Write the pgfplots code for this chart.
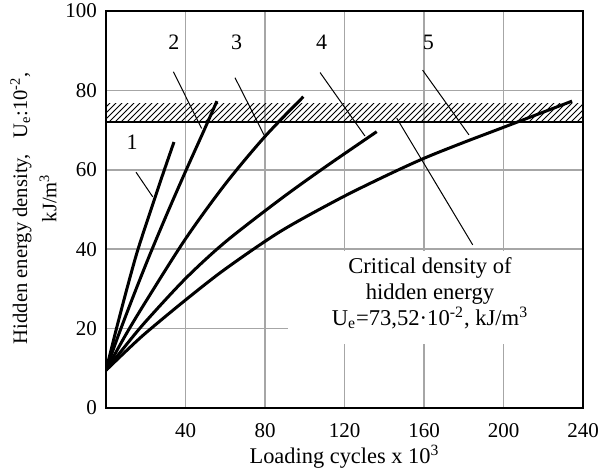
\documentclass[border=0pt]{standalone}
\usepackage{fontspec}
\setmainfont{Liberation Serif}
\usepackage{pgfplots}
\pgfplotsset{compat=1.18}
\usetikzlibrary{patterns}
\begin{document}
\begin{tikzpicture}
\begin{axis}[name=ax, scale only axis, width=238.5pt, height=198.5pt,
  xmin=0, xmax=240, ymin=0, ymax=100,
  xtick={40,80,...,240}, ytick={0,20,...,100},
  grid=major, major grid style={line width=0.75pt, color=black!35},
  axis line style={line width=1pt}, major tick length=0pt,
  tick label style={font=\fontsize{10.5}{12}\selectfont},
  /pgf/number format/assume math mode=true,
  xticklabel style={yshift=-4pt},
  yticklabel style={xshift=-1pt}]
% white box hiding grid behind annotation
\fill[white] (axis cs:91.6,16) rectangle (axis cs:239.5,39.6);
% hatched critical band
\fill[pattern=north east lines] (axis cs:0,72) rectangle (axis cs:240,76.6);
\addplot[line width=1pt, black] coordinates {(0,72) (240,72)};
% leader lines
\addplot[line width=0.5pt, black] coordinates {(15.1,59.4) (23.5,53.2)};
\addplot[line width=0.5pt, black] coordinates {(33.9,84.7) (48.1,70.4)};
\addplot[line width=0.5pt, black] coordinates {(64.9,83.2) (80,68.3)};
\addplot[line width=0.5pt, black] coordinates {(107.7,84.5) (130.3,68.5)};
\addplot[line width=0.5pt, black] coordinates {(159.3,85.1) (182.6,68.8)};
\addplot[line width=0.5pt, black] coordinates {(146.3,73) (184.5,41.1)};
% curves
\addplot[line width=1.5pt, black, smooth] coordinates {(0,9.5) (5,19.5) (10.5,30) (15.8,39.5) (22,49) (28,58) (34.2,67)};
\addplot[line width=1.5pt, black, smooth] coordinates {(0,9.5) (6,18) (14,28.5) (22.2,38.8) (31.2,49.5) (40.2,59.8) (49.2,69.8) (55.8,77.3)};
\addplot[line width=1.5pt, black, smooth] coordinates {(0,9.5) (10,18.5) (20,26.8) (40,42.6) (60,56.4) (80,68.4) (99.3,78.4)};
\addplot[line width=1.5pt, black, smooth] coordinates {(0,9.5) (10,15.8) (20,21.8) (40,32.6) (60,41.8) (87.5,52.5) (110,60.6) (136.2,69.6)};
\addplot[line width=1.5pt, black, smooth] coordinates {(0,9.5) (10,14.3) (20,18.9) (40,27.2) (60,35) (87.5,44.4) (117,52.6) (140,58.3) (160,62.9) (180,66.9) (200,70.7) (234.5,77.3)};
% labels
\node[font=\fontsize{11}{13}\selectfont] at (axis cs:13.1,67) {1};
\node[font=\fontsize{11}{13}\selectfont] at (axis cs:34.2,92.2) {2};
\node[font=\fontsize{11}{13}\selectfont] at (axis cs:65.7,92.2) {3};
\node[font=\fontsize{11}{13}\selectfont] at (axis cs:108.5,92.2) {4};
\node[font=\fontsize{11}{13}\selectfont] at (axis cs:162.2,92) {5};
\node[align=center, font=\fontsize{11.3}{13}\selectfont] at (axis cs:163,29) {Critical density of\\hidden energy\\U\textsubscript{e}=73,52·10\textsuperscript{-2}, kJ/m\textsuperscript{3}};
\end{axis}
\node[rotate=90, font=\fontsize{10.3}{12}\selectfont] at ([xshift=-42.5pt, yshift=0.75pt]ax.west) {Hidden energy density,\ \ \ U\textsubscript{e}:10\textsuperscript{-2},};
\node[rotate=90, font=\fontsize{10.3}{12}\selectfont] at ([xshift=-29pt, yshift=5.75pt]ax.west) {kJ/m\textsuperscript{3}};
\node[font=\fontsize{11.2}{13}\selectfont] at ([yshift=-24.5pt]ax.south) {Loading cycles x 10\textsuperscript{3}};
\pgfresetboundingbox
\path ([shift={(-53pt,-31.5pt)}]ax.south west) rectangle ([shift={(10pt,5.5pt)}]ax.north east);
\end{tikzpicture}
\end{document}
